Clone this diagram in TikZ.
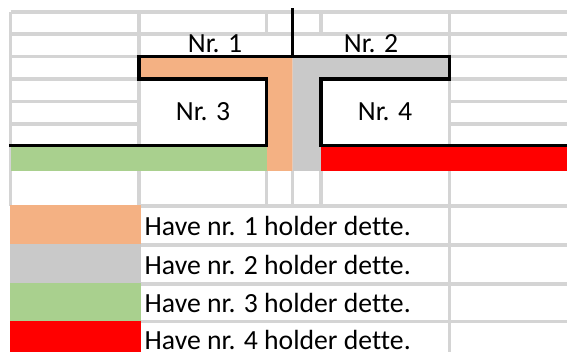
\documentclass[tikz,border=0pt]{standalone}
\usepackage{fontspec}
\setmainfont{Carlito}[Ligatures=NoCommon]
\definecolor{gridc}{HTML}{D4D4D4}
\definecolor{orangec}{HTML}{F4B183}
\definecolor{grayc}{HTML}{C9C9C9}
\definecolor{greenc}{HTML}{A9D08E}
\definecolor{redc}{HTML}{FF0000}
\tikzset{
  gridline/.style={draw=gridc, line width=3.8pt},
  border/.style={draw=black, line width=3.2pt, line cap=rect},
  celltext/.style={inner sep=0pt, anchor=base, font=\fontsize{27.7pt}{30pt}\selectfont},
  legendtext/.style={inner sep=0pt, anchor=base west, font=\fontsize{27.7pt}{30pt}\selectfont}
}
\begin{document}
\begin{tikzpicture}[x=1pt,y=-1pt]
\useasboundingbox (0,0) rectangle (567,352);
\begin{scope}
\clip (0,0) rectangle (567,352);
% ---- gray grid lines ----
% horizontal
\draw[gridline] (10.5,12) -- (567,12);
\draw[gridline] (10.5,34) -- (567,34);
\foreach \y in {56.5,79,101.5,124} {
  \draw[gridline] (10.5,\y) -- (139,\y);
  \draw[gridline] (449.5,\y) -- (567,\y);
}
\foreach \y in {206,245,284,321.5} {
  \draw[gridline] (139,\y) -- (567,\y);
}
% vertical
\draw[gridline] (10.5,12) -- (10.5,206);
\draw[gridline] (139,12) -- (139,206);
\draw[gridline] (266.5,12) -- (266.5,34);
\draw[gridline] (266.5,171) -- (266.5,206);
\draw[gridline] (292.5,171) -- (292.5,206);
\draw[gridline] (321,12) -- (321,34);
\draw[gridline] (321,171) -- (321,206);
\draw[gridline] (449.5,12) -- (449.5,352);
% ---- coloured cells ----
\fill[orangec] (139,56.5) -- (292.5,56.5) -- (292.5,171) -- (266.5,171) -- (266.5,79) -- (139,79) -- cycle;
\fill[grayc] (292.5,56.5) -- (449.5,56.5) -- (449.5,79) -- (321,79) -- (321,171) -- (292.5,171) -- cycle;
\fill[greenc] (10.5,145.5) rectangle (266.5,171);
\fill[redc] (321,145.5) rectangle (567,171);
% legend swatches
\fill[orangec] (10,205) rectangle (141,244);
\fill[grayc] (10,244) rectangle (141,283);
\fill[greenc] (10,283) rectangle (141,321);
\fill[redc] (10,321) rectangle (141,352);
% ---- black borders ----
\draw[border] (292.5,10) -- (292.5,56.5);
\draw[border] (266.5,79) -- (139,79) -- (139,56.5) -- (449.5,56.5) -- (449.5,79) -- (321,79);
\draw[border] (10.5,145.5) -- (266.5,145.5) -- (266.5,79);
\draw[border] (567,145.5) -- (321,145.5) -- (321,79);
% ---- texts ----
\node[celltext] (n1) at (215,52.5) {Nr. 1};
\node[celltext] (n2) at (371,52.5) {Nr. 2};
\node[celltext] (n3) at (203,120.7) {Nr. 3};
\node[celltext] (n4) at (385,120.7) {Nr. 4};
\node[legendtext] (l1) at (144.5,235.7) {Have nr. 1 holder dette.};
\node[legendtext] (l2) at (144.5,274.5) {Have nr. 2 holder dette.};
\node[legendtext] (l3) at (144.5,312.5) {Have nr. 3 holder dette.};
\node[legendtext] (l4) at (144.5,349.5) {Have nr. 4 holder dette.};
\end{scope}
\end{tikzpicture}
\end{document}
